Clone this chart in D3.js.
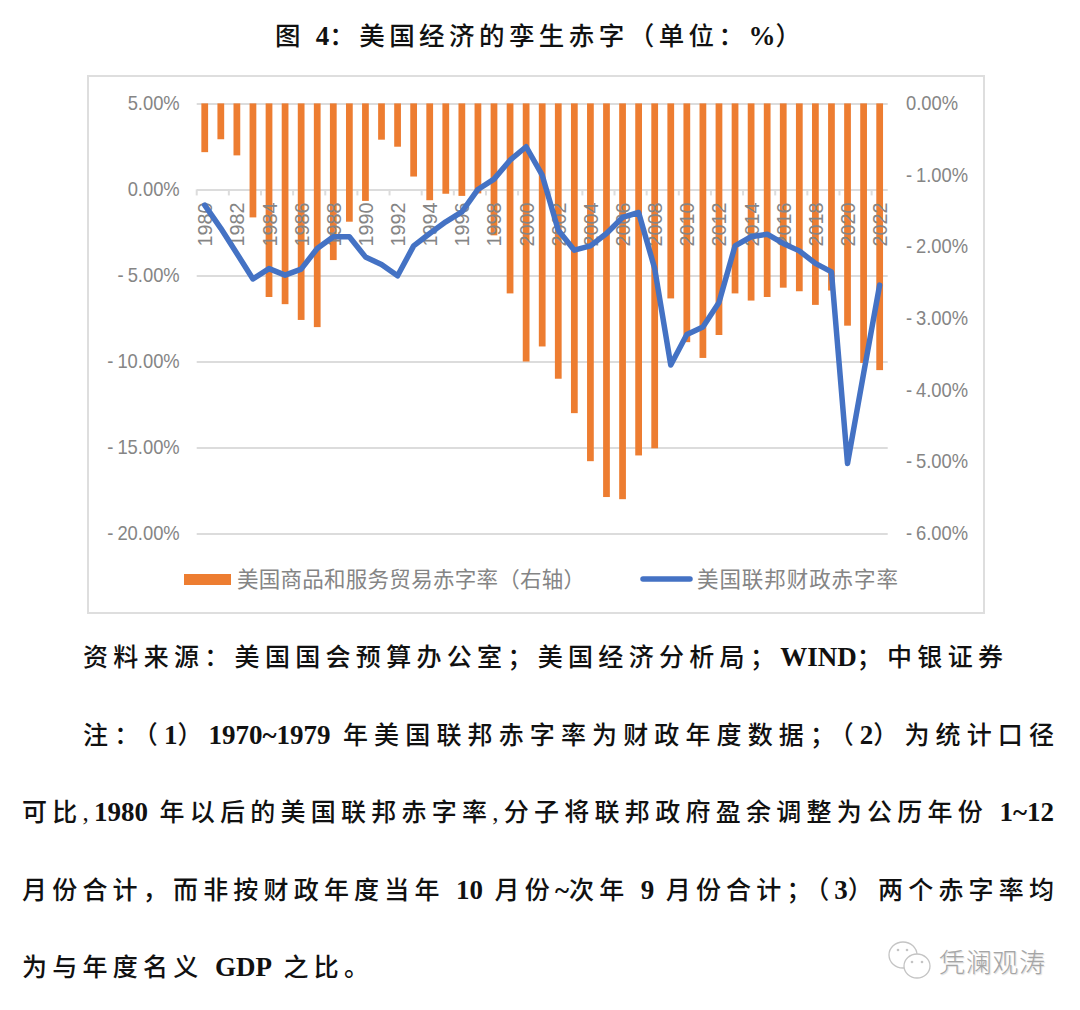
<!DOCTYPE html>
<html><head><meta charset="utf-8">
<script src="https://cdn.jsdelivr.net/npm/d3@7"></script>
<style>html,body{margin:0;padding:0;background:#fff}svg{display:block}</style></head>
<body><svg id="c" width="1080" height="1010"></svg>
<script>
const years = d3.range(1980, 2023);
const tradeDeficit = [-0.68,-0.50,-0.725,-1.59,-2.70,-2.80,-3.02,-3.12,-2.185,-1.65,-1.36,-0.506,-0.604,-1.02,-1.35,-1.26,-1.29,-1.255,-1.84,-2.65,-3.60,-3.39,-3.84,-4.32,-4.99,-5.49,-5.52,-4.91,-4.81,-2.72,-3.33,-3.55,-3.23,-2.65,-2.75,-2.70,-2.57,-2.62,-2.81,-2.61,-3.10,-3.62,-3.72];
const fiscalDeficit = [-0.91,-2.26,-3.72,-5.2,-4.6,-4.98,-4.63,-3.43,-2.75,-2.75,-3.92,-4.36,-5.02,-3.28,-2.56,-1.88,-1.3,0,0.6,1.7,2.48,0.83,-2.37,-3.53,-3.28,-2.56,-1.63,-1.34,-4.6,-10.2,-8.43,-7.99,-6.57,-3.28,-2.75,-2.6,-3.14,-3.57,-4.3,-4.79,-15.93,-10.7,-5.56];
const leftTicks = [5,0,-5,-10,-15,-20];
const rightTicks = [0,-1,-2,-3,-4,-5,-6];
const title = "图 4：美国经济的孪生赤字（单位：%）";
const legendNames = ["美国商品和服务贸易赤字率（右轴）","美国联邦财政赤字率"];
const noteLines = [
 ["资料来源：美国国会预算办公室；美国经济分析局；WIND；中银证券",83,1003,666],
 ["注：（1）1970~1979 年美国联邦赤字率为财政年度数据；（2）为统计口径",83,1054,744],
 ["可比,1980 年以后的美国联邦赤字率,分子将联邦政府盈余调整为公历年份 1~12",22,1054,821],
 ["月份合计，而非按财政年度当年 10 月份~次年 9 月份合计；（3）两个赤字率均",22,1054,899],
 ["为与年度名义 GDP 之比。",22,369,976]
];
const watermark = "凭澜观涛";

const svg = d3.select("#c");
const serif = '"Liberation Serif","Noto Sans CJK SC",serif';
const sans = '"Liberation Sans","Noto Sans CJK SC",sans-serif';
const X0=196.7, X1=887.7, Y0=103.4, Y1=533.6;
const grey="#858585", gridC="#dcdcdc";

const x = d3.scaleBand().domain(years).range([X0,X1]).paddingInner(0.58).paddingOuter(0.29);
const yL = d3.scaleLinear().domain([5,-20]).range([Y0,Y1]);
const yR = d3.scaleLinear().domain([0,-6]).range([Y0,Y1]);

// mixed text: bold Latin, spacing spread over the Chinese runs only
function rich(str,a,b,y,cjkSize,latinSize){
  const t=svg.append("text").attr("x",a).attr("y",y).attr("font-family",serif).attr("fill","#111");
  const parts=str.split(/([A-Za-z0-9~%]+)/).filter(s=>s), cjk=[];
  let n=0, lastCjk=false;
  parts.forEach(s=>{
    const s2=t.append("tspan").text(s);
    if(/^[A-Za-z0-9~%]+$/.test(s)){ s2.attr("font-weight","bold").attr("font-size",latinSize); lastCjk=false; }
    else { s2.attr("font-size",cjkSize).attr("font-weight",500); cjk.push(s2); n+=s.length; lastCjk=true; }
  });
  const ls=(b-a-t.node().getComputedTextLength())/(lastCjk?n-1:n);
  cjk.forEach(c=>c.attr("letter-spacing",ls));
}
// frame
svg.append("rect").attr("x",88).attr("y",76).attr("width",896).attr("height",537)
  .attr("fill","#fff").attr("stroke","#dedede").attr("stroke-width",2);

rich(title,275,801,45,25.5,27);

const SX=0.875;
function styleTicks(g){
  g.selectAll("text").attr("font-family",sans).attr("font-size",21).attr("fill",grey)
   .each(function(d){
     const el=d3.select(this), s=el.text();
     el.attr("x",+el.attr("x")/SX).attr("y",-0.7).attr("transform",`scale(${SX},1)`);
     if(s[0]==="-"){
       el.text("");
       el.append("tspan").text("-");
       el.append("tspan").attr("dx",4.5).text(s.slice(1));
     }
   });
}
// gridlines + left labels
const gL=svg.append("g").attr("transform",`translate(${X0},0)`)
  .call(d3.axisLeft(yL).tickValues(leftTicks).tickSize(-(X1-X0)).tickPadding(17).tickFormat(d=>d.toFixed(2)+"%"));
gL.select(".domain").remove();
gL.selectAll("line").attr("stroke",gridC).attr("stroke-width",2);
styleTicks(gL);

// bars
svg.append("g").selectAll("rect").data(years).join("rect")
  .attr("x",d=>x(d)).attr("width",x.bandwidth())
  .attr("y",yR(0)).attr("height",(d,i)=>yR(tradeDeficit[i])-yR(0))
  .attr("fill","#ed7d31");

// x ticks and labels
const y0=yL(0);
svg.append("g").selectAll("line").data(years.filter(d=>d%2===0)).join("line")
  .attr("x1",d=>x(d)-x.step()*0.29).attr("x2",d=>x(d)-x.step()*0.29)
  .attr("y1",y0).attr("y2",y0+6).attr("stroke",gridC).attr("stroke-width",2);
svg.append("g").selectAll("text").data(years.filter(d=>d%2===0)).join("text")
  .text(d=>d).attr("text-anchor","end")
  .attr("transform",d=>`translate(${x(d)+x.bandwidth()/2+7.5},${y0+13}) rotate(-90)`)
  .attr("font-family",sans).attr("font-size",21).attr("fill",grey)
  .attr("textLength",44).attr("lengthAdjust","spacingAndGlyphs");

// right labels
const gR=svg.append("g").attr("transform",`translate(906,0)`)
  .call(d3.axisRight(yR).tickValues(rightTicks).tickSize(0).tickPadding(0).tickFormat(d=>d.toFixed(2)+"%"));
gR.select(".domain").remove();
styleTicks(gR);

// line
svg.append("path").datum(fiscalDeficit)
  .attr("fill","none").attr("stroke","#4472c4").attr("stroke-width",5.5)
  .attr("stroke-linejoin","round").attr("stroke-linecap","round")
  .attr("d",d3.line().x((d,i)=>x(years[i])+x.bandwidth()/2).y(d=>yL(d)));

// legend
svg.append("rect").attr("x",184).attr("y",574).attr("width",47).attr("height",11).attr("fill","#ed7d31");
svg.append("line").attr("x1",643).attr("x2",690).attr("y1",579).attr("y2",579)
  .attr("stroke","#4472c4").attr("stroke-width",5.5).attr("stroke-linecap","round");
svg.append("text").text(legendNames[0]).attr("x",237).attr("y",587).attr("textLength",348)
  .attr("font-family",sans).attr("font-size",21.5).attr("fill",grey);
svg.append("text").text(legendNames[1]).attr("x",697).attr("y",587).attr("textLength",201)
  .attr("font-family",sans).attr("font-size",21.5).attr("fill",grey);

// notes
noteLines.forEach(([s,a,b,y])=>rich(s,a,b,y,25,27));

// watermark
const wm=svg.append("g").attr("fill","#fff").attr("stroke","#c4c4c4").attr("stroke-width",1.3);
wm.append("ellipse").attr("cx",903).attr("cy",955).attr("rx",14).attr("ry",13);
wm.append("ellipse").attr("cx",917).attr("cy",966).attr("rx",13).attr("ry",12);
[[898,950],[907,950],[912,962],[922,962]].forEach(([cx,cy])=>
  svg.append("circle").attr("cx",cx).attr("cy",cy).attr("r",1.3).attr("fill","#c4c4c4"));
svg.append("text").text(watermark).attr("x",939).attr("y",972).attr("textLength",106)
  .attr("font-family",sans).attr("font-size",26).attr("font-weight",300)
  .attr("fill","#a5a5a5").attr("style","text-shadow:1px 1px 1px #ddd");
</script></body></html>
